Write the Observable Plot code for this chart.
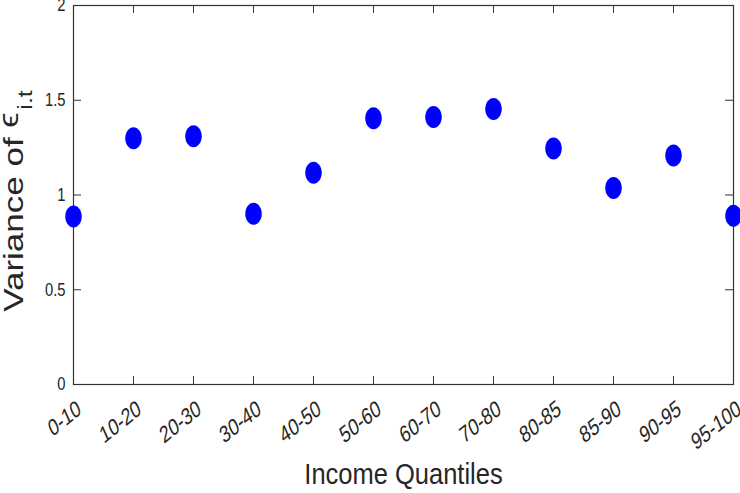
<!DOCTYPE html>
<html><head><meta charset="utf-8">
<script src="https://cdn.jsdelivr.net/npm/d3@7"></script>
<script src="https://cdn.jsdelivr.net/npm/@observablehq/plot@0.6"></script>
<style>body{margin:0;background:#fff}</style>
</head><body><div id="chart"></div>
<script>
const quantiles = ["0-10","10-20","20-30","30-40","40-50","50-60","60-70","70-80","80-85","85-90","90-95","95-100"];
const variances = [0.887, 1.299, 1.310, 0.901, 1.118, 1.405, 1.412, 1.454, 1.246, 1.037, 1.208, 0.891];
const yTicks = [0, 0.5, 1, 1.5, 2];
const xTitle = "Income Quantiles";
const yTitleMain = "Variance of ";
const yTitleSym = "\u03F5";
const yTitleSub = "i.t";

const data = quantiles.map((q, i) => ({q, v: variances[i]}));
const font = "'Liberation Sans',Arial,Helvetica,sans-serif";
const axisColor = "#333333";

const ellipse = {
  draw(ctx, size) {
    const r = Math.sqrt(size / Math.PI);
    const rx = r * 0.75, ry = r, k = 0.5523;
    ctx.moveTo(rx, 0);
    ctx.bezierCurveTo(rx, ry * k, rx * k, ry, 0, ry);
    ctx.bezierCurveTo(-rx * k, ry, -rx, ry * k, -rx, 0);
    ctx.bezierCurveTo(-rx, -ry * k, -rx * k, -ry, 0, -ry);
    ctx.bezierCurveTo(rx * k, -ry, rx, -ry * k, rx, 0);
    ctx.closePath();
  }
};

const first = quantiles[0], last = quantiles[quantiles.length - 1];

const chart = Plot.plot({
  width: 740,
  height: 493,
  marginLeft: 73,
  marginRight: 7,
  marginTop: 5,
  marginBottom: 109,
  style: {background: "#fff", color: "#262626"},
  x: {type: "point", domain: quantiles, padding: 0, axis: null},
  y: {domain: [0, 2], axis: null},
  marks: [
    Plot.frame({stroke: axisColor, strokeWidth: 1.2}),
    Plot.ruleY(yTicks, {y: d => d, x1: () => first, x2: () => first, insetRight: -8, stroke: axisColor}),
    Plot.ruleY(yTicks, {y: d => d, x1: () => last, x2: () => last, insetLeft: -8, stroke: axisColor}),
    Plot.ruleX(quantiles, {x: d => d, y1: () => 0, y2: () => 0, insetTop: -8, stroke: axisColor}),
    Plot.ruleX(quantiles, {x: d => d, y1: () => 2, y2: () => 2, insetBottom: -8, stroke: axisColor}),
    // y tick labels
    Plot.text(yTicks, {x: () => first, y: d => d, text: d => String(d), textAnchor: "end", dx: -8, fontSize: 18, fontFamily: font, fill: "#262626"}),
    // x tick labels
    Plot.text(quantiles, {x: d => d, y: () => 0, text: d => d, textAnchor: "end", lineAnchor: "middle", rotate: -30, dx: 6, dy: 22, fontSize: 17.5, fontFamily: font, fill: "#262626"}),
    // x title
    Plot.text([xTitle], {frameAnchor: "bottom", dy: 99, text: d => d, fontSize: 30, fontFamily: font, lineAnchor: "bottom", fill: "#262626"}),
    Plot.dot(data, {x: "q", y: "v", r: 11, symbol: ellipse, fill: "#0000ff", stroke: "none"})
  ]
});

// emulate the vertically stretched rendering of the reference
const svg = d3.select(chart);
const groups = svg.selectAll('g[aria-label="text"]').nodes();
function restyle(g, extra) {
  d3.select(g).selectAll("text").each(function () {
    const tr = this.getAttribute("transform") || "";
    const m = tr.match(/translate\(([^)]*)\)/);
    const base = m ? `translate(${m[1]})` : "";
    this.setAttribute("transform", `${base} ${extra}`);
  });
}
restyle(groups[0], "scale(0.82,1)");
restyle(groups[1], "scale(1,1.35) rotate(-31)");
restyle(groups[2], "scale(0.85,1)");

// y title with subscript
const t = svg.append("text")
  .attr("transform", "translate(23,201) rotate(-90) scale(1.25,1)")
  .attr("text-anchor", "middle")
  .attr("font-family", font)
  .attr("font-size", 28)
  .attr("fill", "#262626");
t.append("tspan").text(yTitleMain);
t.append("tspan").attr("dy", -5).text(yTitleSym);
t.append("tspan").attr("font-size", 20).attr("dy", 14).attr("dx", 2).text(yTitleSub);

document.getElementById("chart").append(chart);
</script>
</body></html>
